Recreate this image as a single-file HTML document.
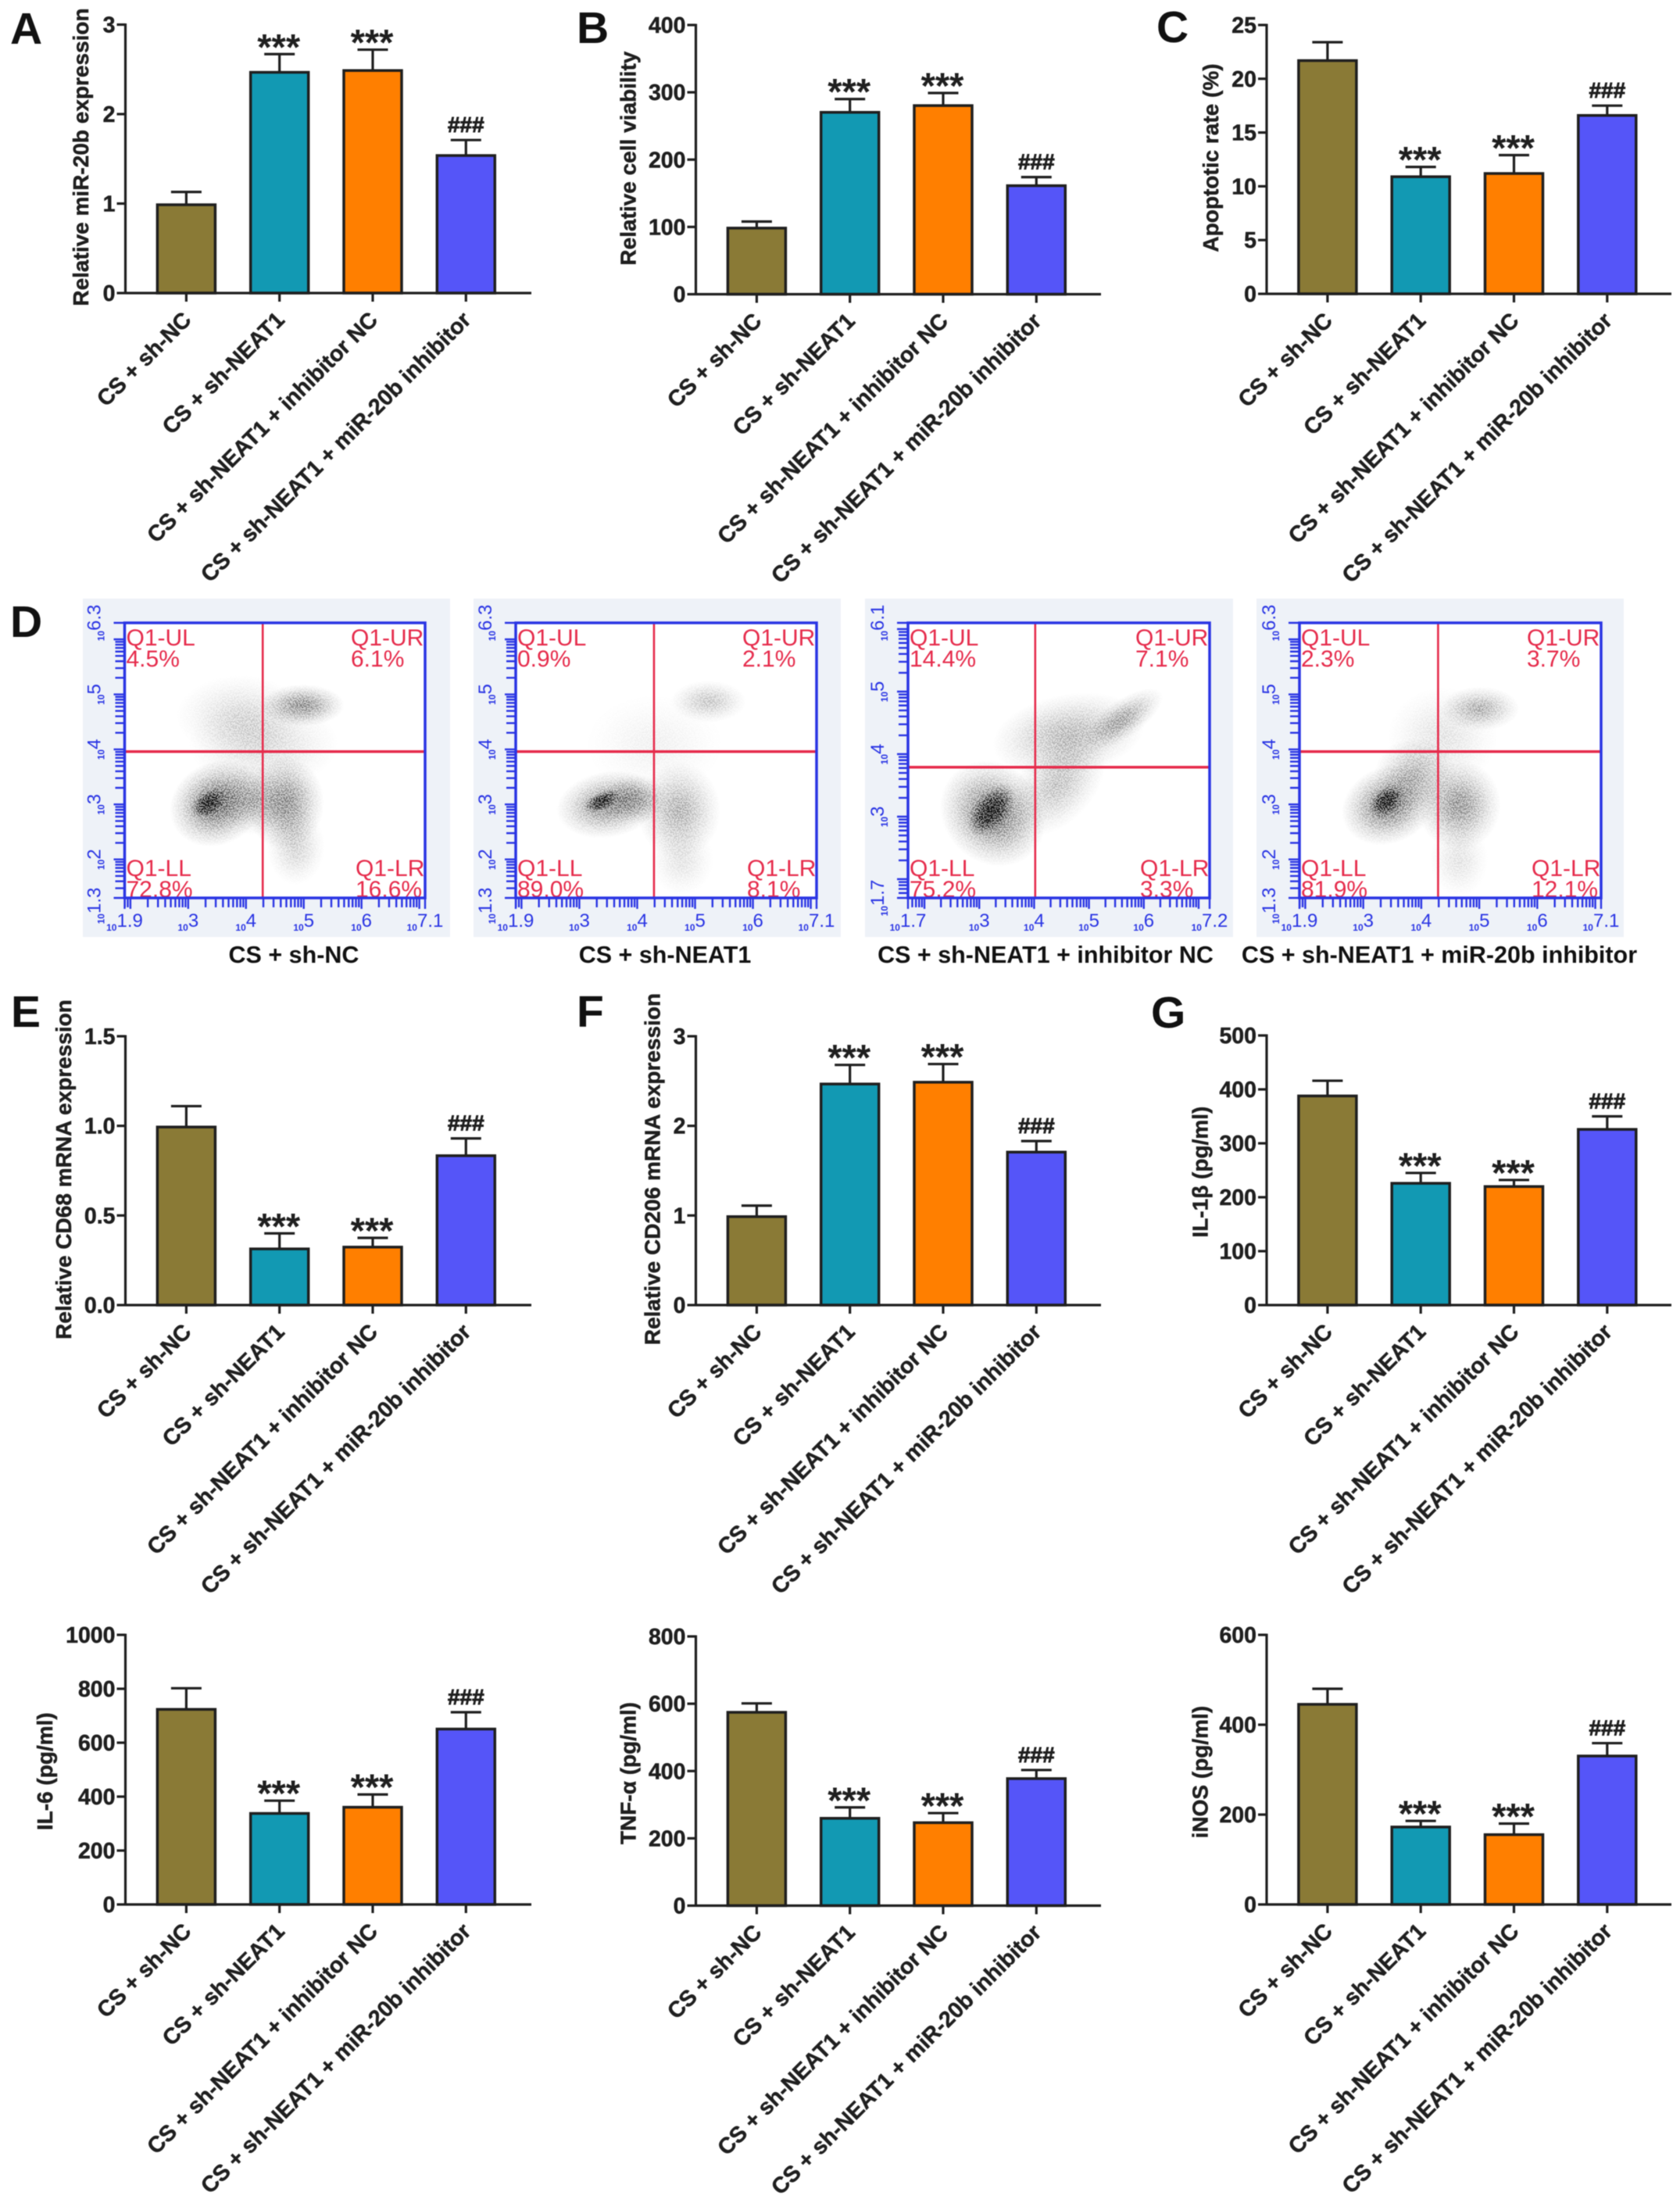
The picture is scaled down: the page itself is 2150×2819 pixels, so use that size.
<!DOCTYPE html>
<html lang="en">
<head>
<meta charset="utf-8">
<title>CS + sh-NEAT1 experiment figure</title>
<style>
html,body{margin:0;padding:0;background:#fff;}
svg{display:block;filter:blur(0.5px);font-family:"Liberation Sans",sans-serif;}
</style>
</head>
<body>
<svg id="figure" xmlns="http://www.w3.org/2000/svg" width="2150" height="2819" viewBox="0 0 2150 2819">
<defs>
<radialGradient id="cloud">
<stop offset="0" stop-color="#111" stop-opacity="1"/>
<stop offset="0.25" stop-color="#111" stop-opacity="0.82"/>
<stop offset="0.5" stop-color="#111" stop-opacity="0.5"/>
<stop offset="0.75" stop-color="#111" stop-opacity="0.2"/>
<stop offset="1" stop-color="#111" stop-opacity="0"/>
</radialGradient>
<filter id="grain" x="-5%" y="-5%" width="110%" height="110%" color-interpolation-filters="sRGB">
<feTurbulence type="fractalNoise" baseFrequency="0.6" numOctaves="2" seed="7" result="n"/>
<feColorMatrix in="n" type="matrix" values="0 0 0 0 0  0 0 0 0 0  0 0 0 0 0  6 0 0 0 -2.6" result="m"/>
<feComposite in="SourceGraphic" in2="m" operator="arithmetic" k1="1.0" k2="0.5" k3="0" k4="0"/>
</filter>
</defs>
</svg>
<script>
/* ---------- bar chart data ---------- */
const categories = ["CS + sh-NC", "CS + sh-NEAT1", "CS + sh-NEAT1 + inhibitor NC", "CS + sh-NEAT1 + miR-20b inhibitor"];
const barColors = ["#8a7a36", "#1299b3", "#ff7f00", "#5555f8"];

const mir20bValues = [1.0, 2.48, 2.5, 1.55];
const mir20bErrorTops = [1.13, 2.67, 2.72, 1.71];
const mir20bTicks = ["0", "1", "2", "3"];
const mir20bMarks = ["", "***", "***", "###"];

const viabilityValues = [100, 272, 282, 163];
const viabilityErrorTops = [108, 290, 299, 174];
const viabilityTicks = ["0", "100", "200", "300", "400"];
const viabilityMarks = ["", "***", "***", "###"];

const apoptosisValues = [21.8, 11.0, 11.3, 16.7];
const apoptosisErrorTops = [23.4, 11.8, 12.9, 17.5];
const apoptosisTicks = ["0", "5", "10", "15", "20", "25"];
const apoptosisMarks = ["", "***", "***", "###"];

const cd68Values = [1.0, 0.32, 0.33, 0.84];
const cd68ErrorTops = [1.11, 0.40, 0.375, 0.93];
const cd68Ticks = ["0.0", "0.5", "1.0", "1.5"];
const cd68Marks = ["", "***", "***", "###"];

const cd206Values = [1.0, 2.48, 2.5, 1.72];
const cd206ErrorTops = [1.11, 2.68, 2.69, 1.83];
const cd206Ticks = ["0", "1", "2", "3"];
const cd206Marks = ["", "***", "***", "###"];

const il1bValues = [390, 228, 222, 328];
const il1bErrorTops = [416, 245, 232, 350];
const il1bTicks = ["0", "100", "200", "300", "400", "500"];
const il1bMarks = ["", "***", "***", "###"];

const il6Values = [728, 342, 365, 655];
const il6ErrorTops = [802, 385, 408, 713];
const il6Ticks = ["0", "200", "400", "600", "800", "1000"];
const il6Marks = ["", "***", "***", "###"];

const tnfValues = [578, 263, 250, 381];
const tnfErrorTops = [601, 292, 275, 403];
const tnfTicks = ["0", "200", "400", "600", "800"];
const tnfMarks = ["", "***", "***", "###"];

const inosValues = [448, 175, 158, 333];
const inosErrorTops = [480, 186, 180, 359];
const inosTicks = ["0", "200", "400", "600"];
const inosMarks = ["", "***", "***", "###"];

/* ---------- flow cytometry data (log10 units) ---------- */
const flowTitles = ["CS + sh-NC", "CS + sh-NEAT1", "CS + sh-NEAT1 + inhibitor NC", "CS + sh-NEAT1 + miR-20b inhibitor"];
const flowGateX = [4.29, 4.29, 4.02, 4.29];
const flowGateY = [3.96, 3.96, 3.79, 3.96];
const flowPercentUL = ["4.5%", "0.9%", "14.4%", "2.3%"];
const flowPercentUR = ["6.1%", "2.1%", "7.1%", "3.7%"];
const flowPercentLL = ["72.8%", "89.0%", "75.2%", "81.9%"];
const flowPercentLR = ["16.6%", "8.1%", "3.3%", "12.1%"];
const flowXTicks = [["1.9","3","4","5","6","7.1"], ["1.9","3","4","5","6","7.1"], ["1.7","3","4","5","6","7.2"], ["1.9","3","4","5","6","7.1"]];
const flowYTicks = [["1.3","2","3","4","5","6.3"], ["1.3","2","3","4","5","6.3"], ["1.7","3","4","5","6.1"], ["1.3","2","3","4","5","6.3"]];
/* density clouds: [centre x, centre y, spread x, spread y, tilt deg, density] */
const flowCloudsNC = [
  [3.9,4.6,1.1,0.75,0,0.13],[4.3,4.1,1.3,0.8,0,0.13],
  [3.5,3.02,0.85,0.75,-30,0.55],[4.1,3.1,0.55,0.65,0,0.22],[4.67,3.03,0.68,0.85,0,0.42],[4.86,2.24,0.5,0.7,0,0.16],
  [4.98,4.8,0.72,0.38,0,0.4],[3.35,3.02,0.34,0.22,-35,0.95]
];
const flowCloudsNEAT1 = [
  [4.3,4.1,1.2,0.9,0,0.05],[5.23,4.87,0.65,0.38,0,0.2],
  [3.5,3.0,0.9,0.6,-10,0.42],[3.95,3.1,0.55,0.45,0,0.3],[4.72,2.89,0.72,0.88,0,0.28],
  [4.77,2.0,0.55,0.65,0,0.1],[3.39,3.06,0.34,0.17,-25,0.95]
];
const flowCloudsInhibitorNC = [
  [4.63,4.31,1.4,0.65,-10,0.25],[5.62,4.56,0.85,0.3,-35,0.3],[4.43,3.53,1.1,0.6,-50,0.22],
  [3.25,3.05,0.9,0.9,-45,0.5],[3.22,3.1,0.55,0.28,-50,1]
];
const flowCloudsMiR20b = [
  [4.37,4.23,0.95,0.9,0,0.1],[5.01,4.74,0.68,0.4,0,0.28],[3.9,3.56,0.7,0.65,0,0.25],
  [4.65,2.99,0.72,0.82,0,0.38],[4.65,2.0,0.5,0.68,0,0.1],
  [3.45,3.0,0.85,0.7,-25,0.5],[3.4,3.06,0.34,0.24,-40,1]
];

/* ---------- layout ---------- */
const svg = document.getElementById('figure');
const NS = 'http://www.w3.org/2000/svg';
const INK = '#1f1f1f';
const BAR_STEP = 119.3;
const BAR_FIRST = 77.9;
const BAR_HALF = 37;

function make(tag, attrs, parent, text) {
  const node = document.createElementNS(NS, tag);
  for (const k in attrs) node.setAttribute(k, attrs[k]);
  if (text !== undefined) node.textContent = text;
  parent.appendChild(node);
  return node;
}

const barCharts = [
  {key:'mir20b', title:'Relative miR-20b expression', values:mir20bValues, tops:mir20bErrorTops, ticks:mir20bTicks, marks:mir20bMarks, left:160.5, right:680, top:31.5, bottom:375, titleX:113, titleY:201},
  {key:'viability', title:'Relative cell viability', values:viabilityValues, tops:viabilityErrorTops, ticks:viabilityTicks, marks:viabilityMarks, left:890.5, right:1409, top:32, bottom:376.5, titleX:813.7, titleY:202.6},
  {key:'apoptosis', title:'Apoptotic rate (%)', values:apoptosisValues, tops:apoptosisErrorTops, ticks:apoptosisTicks, marks:apoptosisMarks, left:1621, right:2139, top:32, bottom:376, titleX:1559, titleY:202},
  {key:'cd68', title:'Relative CD68 mRNA expression', values:cd68Values, tops:cd68ErrorTops, ticks:cd68Ticks, marks:cd68Marks, left:160.5, right:680, top:1326, bottom:1670, titleX:91, titleY:1496.5},
  {key:'cd206', title:'Relative CD206 mRNA expression', values:cd206Values, tops:cd206ErrorTops, ticks:cd206Ticks, marks:cd206Marks, left:890.5, right:1409, top:1326, bottom:1670, titleX:844.6, titleY:1496},
  {key:'il1b', title:'IL-1\u03B2 (pg/ml)', values:il1bValues, tops:il1bErrorTops, ticks:il1bTicks, marks:il1bMarks, left:1621, right:2139, top:1325, bottom:1670, titleX:1545.6, titleY:1499.6},
  {key:'il6', title:'IL-6 (pg/ml)', values:il6Values, tops:il6ErrorTops, ticks:il6Ticks, marks:il6Marks, left:160.5, right:680, top:2092, bottom:2437, titleX:67, titleY:2266.7},
  {key:'tnf', title:'TNF-\u03B1 (pg/ml)', values:tnfValues, tops:tnfErrorTops, ticks:tnfTicks, marks:tnfMarks, left:890.5, right:1409, top:2094, bottom:2438.5, titleX:813.7, titleY:2269},
  {key:'inos', title:'iNOS (pg/ml)', values:inosValues, tops:inosErrorTops, ticks:inosTicks, marks:inosMarks, left:1621, right:2139, top:2092, bottom:2437, titleX:1545.6, titleY:2267.6}
];

barCharts.forEach(function (c) {
  const g = make('g', {}, svg);
  
  
  const yMax = parseFloat(c.ticks[c.ticks.length - 1]);
  const yOf = function (v) { return c.bottom - (v / yMax) * (c.bottom - c.top); };
  const xOf = function (i) { return c.left + BAR_FIRST + BAR_STEP * i; };

  c.values.forEach(function (v, i) {
    const cx = xOf(i);
    const barTop = yOf(v) + 1.5;
    const err = make('path', {d:'M' + cx + ' ' + barTop + 'V' + yOf(c.tops[i]) + 'M' + (cx - 19.5) + ' ' + yOf(c.tops[i]) + 'H' + (cx + 19.5), fill:'none', stroke:INK, 'stroke-width':3.2}, g);
    
    
    const bar = make('rect', {x:cx - BAR_HALF, y:barTop, width:BAR_HALF * 2, height:c.bottom - barTop, fill:barColors[i], stroke:INK, 'stroke-width':3.5}, g);
    
    
    if (c.marks[i] === '***') {
      const star = make('text', {x:cx - 1, y:yOf(c.tops[i]) + 7, 'text-anchor':'middle', 'font-size':47, 'font-weight':'bold', fill:INK}, g, c.marks[i]);
      
      
    } else if (c.marks[i] === '###') {
      const hash = make('text', {x:cx, y:yOf(c.tops[i]) - 10, 'text-anchor':'middle', 'font-size':28, 'font-weight':'bold', fill:INK, stroke:INK, 'stroke-width':0.9}, g, c.marks[i]);
      
      
    }
    const tick = make('line', {x1:cx, x2:cx, y1:c.bottom, y2:c.bottom + 11, stroke:INK, 'stroke-width':3.2}, g);
    
    
    const lx = cx + 8, ly = c.bottom + 36;
    const label = make('text', {x:lx, y:ly, 'text-anchor':'end', transform:'rotate(-45 ' + lx + ' ' + ly + ')', 'font-size':28.6, 'font-weight':'bold', fill:INK, stroke:INK, 'stroke-width':0.5}, g, categories[i]);
    
    
  });

  const yAxis = make('line', {x1:c.left, x2:c.left, y1:c.top - 1.5, y2:c.bottom + 1.5, stroke:INK, 'stroke-width':3.2}, g);
  
  
  const xAxis = make('line', {x1:c.left, x2:c.right, y1:c.bottom, y2:c.bottom, stroke:INK, 'stroke-width':3.2}, g);
  
  

  c.ticks.forEach(function (t) {
    const y = yOf(parseFloat(t));
    const tick = make('line', {x1:c.left - 11, x2:c.left, y1:y, y2:y, stroke:INK, 'stroke-width':3.2}, g);
    
    
    const label = make('text', {x:c.left - 13, y:y + 10, 'text-anchor':'end', 'font-size':28.5, 'font-weight':'bold', fill:INK, stroke:INK, 'stroke-width':0.5}, g, t);
    
    
  });

  const title = make('text', {x:c.titleX, y:c.titleY, 'text-anchor':'middle', transform:'rotate(-90 ' + c.titleX + ' ' + c.titleY + ')', 'font-size':28, 'font-weight':'bold', fill:INK, stroke:INK, 'stroke-width':0.5}, g, c.title);
  
  
});

/* ---------- flow cytometry panels ---------- */
const flowPanels = [
  {bgL:106, bgR:576, plotL:159.5, plotR:544, xMin:1.9, xMax:7.1, yMin:1.3, yMax:6.3, labelX:376, shift:10, clouds:flowCloudsNC},
  {bgL:606, bgR:1076, plotL:660, plotR:1045, xMin:1.9, xMax:7.1, yMin:1.3, yMax:6.3, labelX:851, shift:10, clouds:flowCloudsNEAT1},
  {bgL:1107, bgR:1578, plotL:1162, plotR:1548, xMin:1.7, xMax:7.2, yMin:1.7, yMax:6.1, labelX:1338, shift:0, clouds:flowCloudsInhibitorNC},
  {bgL:1608, bgR:2078, plotL:1663, plotR:2049, xMin:1.9, xMax:7.1, yMin:1.3, yMax:6.3, labelX:1842, shift:10, clouds:flowCloudsMiR20b}
];
const FLOW_TOP = 797, FLOW_BOTTOM = 1149, BG_TOP = 766, BG_BOTTOM = 1199;
const BLUE = '#2a35e4', RED = '#e62c4c';

flowPanels.forEach(function (p, n) {
  const g = make('g', {}, svg);
  
  
  const xOf = function (v) { return p.plotL + (v - p.xMin) / (p.xMax - p.xMin) * (p.plotR - p.plotL); };
  const yOf = function (v) { return FLOW_BOTTOM - (v - p.yMin) / (p.yMax - p.yMin) * (FLOW_BOTTOM - FLOW_TOP); };
  const xUnit = (p.plotR - p.plotL) / (p.xMax - p.xMin);
  const yUnit = (FLOW_BOTTOM - FLOW_TOP) / (p.yMax - p.yMin);

  const bg = make('rect', {x:p.bgL, y:BG_TOP, width:p.bgR - p.bgL, height:BG_BOTTOM - BG_TOP, fill:'#eef2f8'}, g);
  
  
  const plot = make('rect', {x:p.plotL, y:FLOW_TOP, width:p.plotR - p.plotL, height:FLOW_BOTTOM - FLOW_TOP, fill:'#fff'}, g);
  
  

  const cloudGroup = make('g', {filter:'url(#grain)'}, g);
  
  
  p.clouds.forEach(function (c) {
    const cx = xOf(c[0]), cy = yOf(c[1]);
    const e = make('ellipse', {cx:cx, cy:cy, rx:c[2] * xUnit, ry:c[3] * yUnit, transform:'rotate(' + c[4] + ' ' + cx + ' ' + cy + ')', fill:'url(#cloud)', opacity:c[5]}, cloudGroup);
    
    
  });

  const gateV = make('line', {x1:xOf(flowGateX[n]), x2:xOf(flowGateX[n]), y1:FLOW_TOP, y2:FLOW_BOTTOM, stroke:RED, 'stroke-width':2.6}, g);
  
  
  const gateH = make('line', {x1:p.plotL, x2:p.plotR, y1:yOf(flowGateY[n]), y2:yOf(flowGateY[n]), stroke:RED, 'stroke-width':3.5}, g);
  
  

  const quads = [
    ['Q1-UL', flowPercentUL[n], p.plotL + 2, 826, 853],
    ['Q1-UR', flowPercentUR[n], p.plotR - 95, 826, 853],
    ['Q1-LL', flowPercentLL[n], p.plotL + 2, 1121, 1148],
    ['Q1-LR', flowPercentLR[n], p.plotR - 89, 1121, 1148]
  ];
  quads.forEach(function (q) {
    const name = make('text', {x:q[2], y:q[3], 'font-size':30, fill:RED}, g, q[0]);
    
    
    const pct = make('text', {x:q[2], y:q[4], 'font-size':30, fill:RED}, g, q[1]);
    
    
  });

  /* log-decade comb ticks */
  let combX = 'M' + p.plotL + ' ' + FLOW_BOTTOM + 'v14M' + p.plotR + ' ' + FLOW_BOTTOM + 'v14';
  for (let d = Math.floor(p.xMin); d <= Math.ceil(p.xMax); d++) {
    for (let k = 1; k <= 9; k++) {
      const v = d + Math.log10(k);
      if (v > p.xMin && v < p.xMax) combX += 'M' + xOf(v) + ' ' + FLOW_BOTTOM + 'v' + (k === 1 ? 14 : 12);
    }
  }
  const xComb = make('path', {d:combX, fill:'none', stroke:BLUE, 'stroke-width':2.4}, g);
  
  
  let combY = 'M' + p.plotL + ' ' + FLOW_TOP + 'h-14M' + p.plotL + ' ' + FLOW_BOTTOM + 'h-14';
  for (let d = Math.floor(p.yMin); d <= Math.ceil(p.yMax); d++) {
    for (let k = 1; k <= 9; k++) {
      const v = d + Math.log10(k);
      if (v > p.yMin && v < p.yMax) combY += 'M' + p.plotL + ' ' + yOf(v) + 'h-' + (k === 1 ? 14 : 12);
    }
  }
  const yComb = make('path', {d:combY, fill:'none', stroke:BLUE, 'stroke-width':2.4}, g);
  
  

  const box = make('rect', {x:p.plotL, y:FLOW_TOP, width:p.plotR - p.plotL, height:FLOW_BOTTOM - FLOW_TOP, fill:'none', stroke:BLUE, 'stroke-width':3.5}, g);
  
  

  flowXTicks[n].forEach(function (t) {
    const lab = make('text', {x:xOf(parseFloat(t)), y:FLOW_BOTTOM + 42, 'text-anchor':'middle', fill:BLUE}, g);
    
    
    make('tspan', {'font-size':12, 'font-weight':'bold'}, lab, '10');
    make('tspan', {'font-size':24, dy:-5}, lab, t);
  });
  flowYTicks[n].forEach(function (t, i) {
    const x = p.plotL - 26;
    const y = yOf(parseFloat(t)) + (i === 0 ? p.shift : 0);
    const lab = make('text', {x:x, y:y, 'text-anchor':'middle', transform:'rotate(-90 ' + x + ' ' + y + ')', fill:BLUE}, g);
    
    
    make('tspan', {'font-size':12, 'font-weight':'bold'}, lab, '10');
    make('tspan', {'font-size':24, dy:-5}, lab, t);
  });

  const title = make('text', {x:p.labelX, y:1232, 'text-anchor':'middle', 'font-size':30.5, 'font-weight':'bold', fill:'#111'}, g, flowTitles[n]);
  
  
});

/* ---------- panel letters ---------- */
const letterNames = ["A", "B", "C", "D", "E", "F", "G"];
const letterSpots = [[13,56],[738,55],[1480,54],[13,815],[14,1314],[738,1314],[1473,1315]];
letterNames.forEach(function (s, i) {
  const letter = make('text', {x:letterSpots[i][0], y:letterSpots[i][1], 'font-size':57, 'font-weight':'bold', fill:'#111'}, svg, s);
  
  
});
</script>
</body>
</html>
